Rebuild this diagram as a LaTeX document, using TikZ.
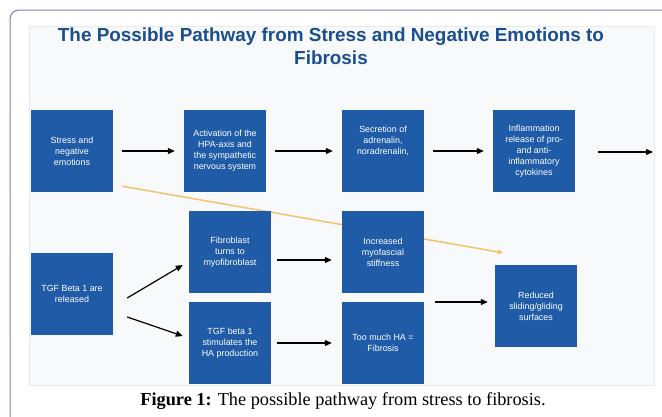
\documentclass[tikz,border=0pt]{standalone}
\usepackage{fontspec}
\setmainfont{Liberation Serif}
\newfontfamily\boxfont{Liberation Sans}
\usepackage{xcolor}
\usepackage{tikz}
\usetikzlibrary{arrows.meta, positioning, backgrounds}
\definecolor{boxBlue}{HTML}{1F5BA6}
\definecolor{titleBlue}{HTML}{1B4E8E}
\definecolor{frameLine}{HTML}{7C7AB9}
\definecolor{panelGray}{HTML}{F8F9FA}
\definecolor{stressLine}{HTML}{F2C26E}

\begin{document}
\begin{tikzpicture}[x=1pt, y=-1pt,
  pathbox/.style={fill=boxBlue, text=white, minimum width=82pt, minimum height=82pt, inner sep=0pt, align=center, font=\boxfont\fontsize{8.9}{11}\selectfont},
  flow/.style={-{Triangle[length=7pt, width=6pt]}, line width=1.2pt, shorten <=9pt, shorten >=9pt}]
  \useasboundingbox (0,0) rectangle (662,416);
  \draw[frameLine, line width=1pt, rounded corners=9pt] (10,420) -- (10,10) -- (670,10);

  \node[text=titleBlue, align=center, font=\boxfont\bfseries\fontsize{18.9}{23}\selectfont] (title) at (331,46) {The Possible Pathway from Stress and Negative Emotions to\\Fibrosis};

  \node[pathbox] (stress) at (72,151) {Stress and\\negative\\emotions};
  \node[pathbox] (hpa) at (225,151) {Activation of the\\HPA-axis and\\the sympathetic\\nervous system};
  \node[pathbox] (secretion) at (383,151) {Secretion of\\adrenalin,\\noradrenalin,\\[11pt]};
  \node[pathbox] (inflam) at (534,151) {Inflammation\\release of pro-\\and anti-\\inflammatory\\cytokines};
  \coordinate (next) at (653,152);

  \node[pathbox] (tgf) at (72,294) {TGF Beta 1 are\\released};
  \node[pathbox] (fibro) at (230,252) {Fibroblast\\turns to\\myofibroblast};
  \node[pathbox] (hastim) at (230,343) {TGF beta 1\\stimulates the\\HA production};
  \node[pathbox] (stiff) at (383,252) {Increased\\myofascial\\stiffness};
  \node[pathbox] (toomuch) at (383,343) {Too much HA =\\Fibrosis};
  \node[pathbox] (reduced) at (536,306) {Reduced\\sliding/gliding\\surfaces};

  \begin{scope}[on background layer]
    \fill[panelGray, draw=black!8] (29,26) rectangle (654,385);
    \draw[stressLine, line width=1.5pt, -{Triangle[length=5pt, width=5pt]}] ([xshift=9pt, yshift=6pt]stress.south east) -- ([xshift=-33pt, yshift=12pt]reduced.north);
  \end{scope}

  \draw[flow] (stress) -- (hpa);
  \draw[flow] (hpa) -- (secretion);
  \draw[flow] (secretion) -- (inflam);
  \draw[flow, shorten <=23pt, shorten >=0pt] (inflam.east |- next) -- (next);

  \draw[flow, shorten <=0pt, shorten >=0pt] ([xshift=14pt, yshift=-4pt]tgf.east) -- ([xshift=-6pt, yshift=-13pt]fibro.west);
  \draw[flow, shorten <=0pt, shorten >=0pt] ([xshift=14pt, yshift=-23pt]tgf.east) -- ([xshift=-6pt, yshift=7pt]hastim.west);
  \draw[flow, shorten <=6pt, shorten >=10pt] ([yshift=-8pt]fibro.east) -- ([yshift=-8pt]stiff.west);
  \draw[flow, shorten <=6pt, shorten >=10pt] (hastim) -- (toomuch);
  \draw[flow, shorten <=11pt, shorten >=7pt] ([yshift=4pt]reduced.west -| stiff.east) -- ([yshift=4pt]reduced.west);

  \node[font=\fontsize{18.3}{21}\selectfont] (caption) at (343,401) {\textbf{Figure 1:} The possible pathway from stress to fibrosis.};
\end{tikzpicture}
\end{document}
